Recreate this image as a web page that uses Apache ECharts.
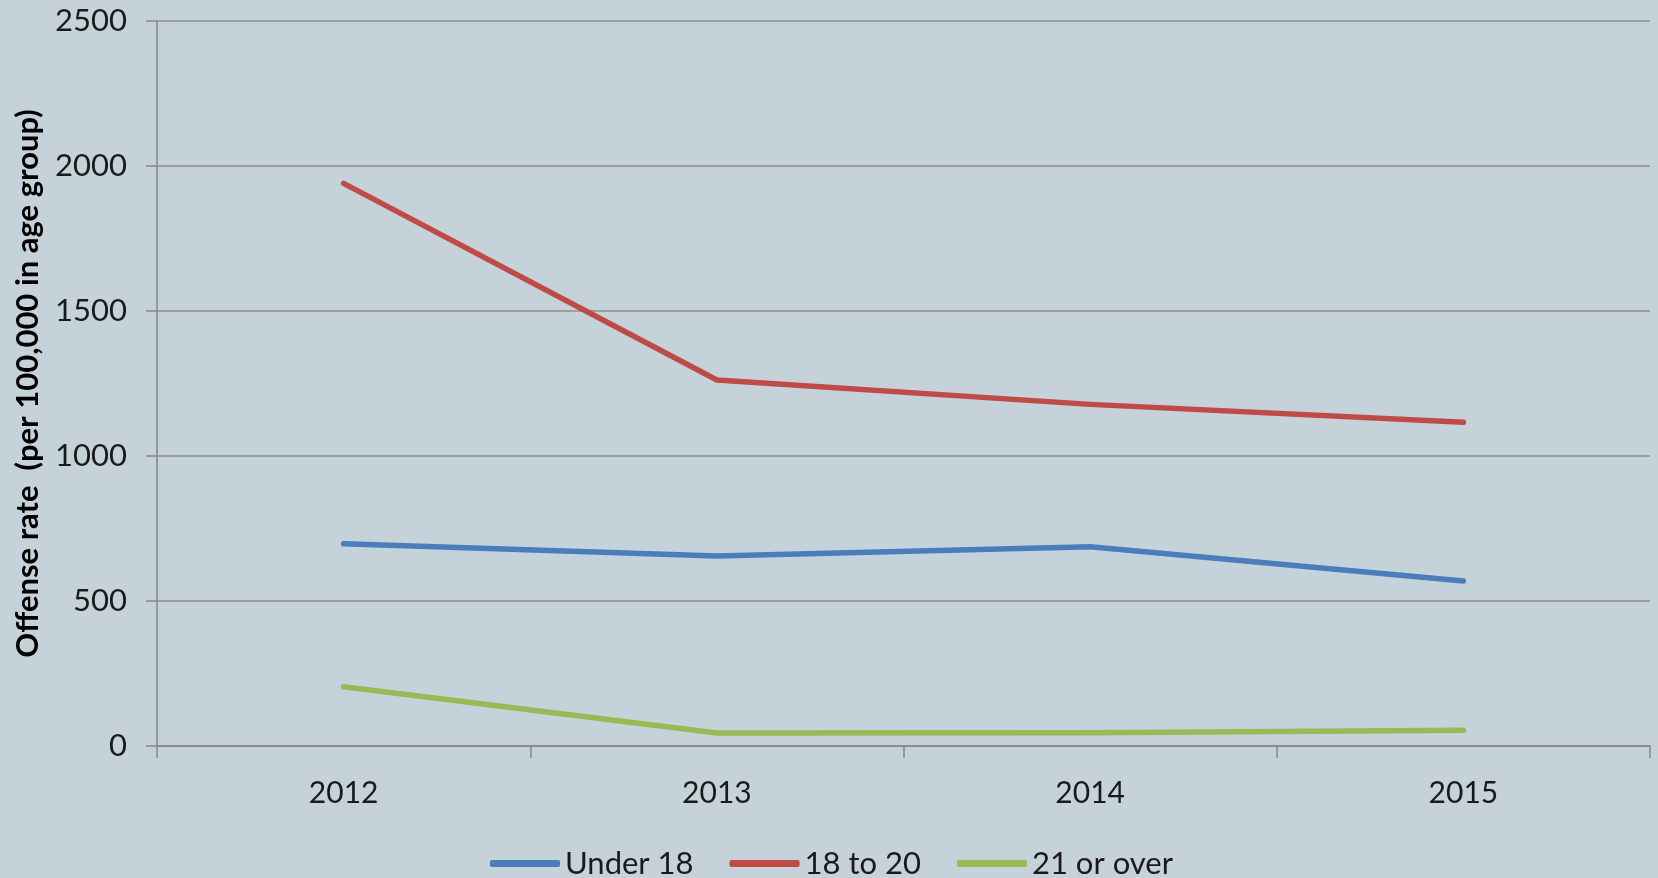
<!DOCTYPE html>
<html>
<head>
<meta charset="utf-8">
<script src="https://cdn.jsdelivr.net/npm/echarts@6/dist/echarts.min.js"></script>
<style>
  html, body { margin: 0; padding: 0; background: #c6d2d9; }
  #chart { width: 1658px; height: 878px; }
</style>
</head>
<body>
<div id="chart"></div>
<script>
var years = ['2012', '2013', '2014', '2015'];
var under18 = [697, 655, 687, 569];
var age18to20 = [1940, 1262, 1178, 1116];
var over21 = [204, 45, 46, 54];

var chart = echarts.init(document.getElementById('chart'));

var lineSeries = function (name, data, color) {
    return {
        name: name,
        type: 'line',
        data: data,
        symbol: 'none',
        lineStyle: { width: 5.5, color: color, cap: 'round', join: 'round' },
        itemStyle: { color: color }
    };
};

var option = {
    backgroundColor: '#c6d2d9',
    textStyle: { fontFamily: 'Lato' },
    grid: { left: 157, right: 8, top: 21, bottom: 132 },
    legend: {
        top: 843,
        left: 485,
        itemWidth: 70,
        itemHeight: 7,
        itemGap: 36,
        icon: 'roundRect',
        textStyle: { fontSize: 31, color: '#1a1a1a', fontFamily: 'Lato' },
        data: ['Under 18', '18 to 20', '21 or over']
    },
    xAxis: {
        type: 'category',
        data: years,
        boundaryGap: true,
        axisLine: { lineStyle: { color: '#868686', width: 1.5 } },
        axisTick: { show: true, length: 12, interval: 0, lineStyle: { color: '#868686', width: 1.5 } },
        axisLabel: { fontSize: 30, color: '#1a1a1a', margin: 32 }
    },
    yAxis: {
        type: 'value',
        min: 0,
        max: 2500,
        interval: 500,
        name: 'Offense rate  (per 100,000 in age group)',
        nameLocation: 'middle',
        nameGap: 114,
        nameTextStyle: { fontSize: 31, fontWeight: 'bold', color: '#000' },
        axisLine: { show: true, lineStyle: { color: '#868686', width: 1.5 } },
        axisTick: { show: true, length: 11, lineStyle: { color: '#868686', width: 1.5 } },
        axisLabel: {
            fontSize: 31, color: '#1a1a1a', margin: 30,
            formatter: function (v) { return String(v); }
        },
        splitLine: { lineStyle: { color: '#8c8c8c', width: 1.5 } }
    },
    series: [
        lineSeries('Under 18', under18, '#4a7ebb'),
        lineSeries('18 to 20', age18to20, '#be4b48'),
        lineSeries('21 or over', over21, '#98b954')
    ]
};

chart.setOption(option);
</script>
</body>
</html>
